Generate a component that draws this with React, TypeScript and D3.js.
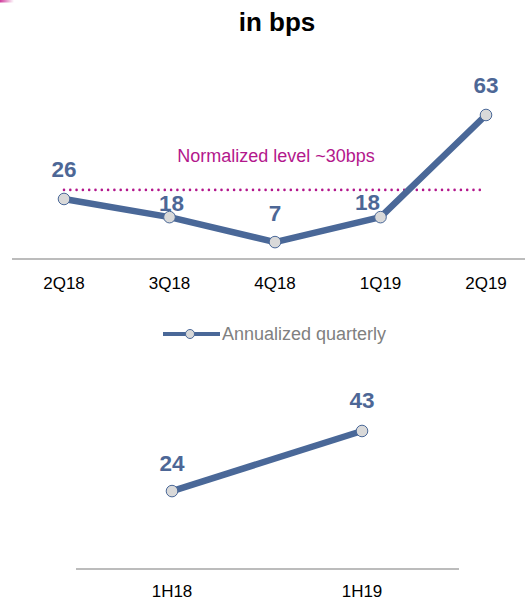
import React from "react";
import * as d3 from "d3";

const quarterCats = ["2Q18", "3Q18", "4Q18", "1Q19", "2Q19"];
const quarterVals = [26, 18, 7, 18, 63];
const quarterLabelDx = [0, 2, 0, -13, 0];
const quarterLabelDy = [-22, -6, -21, -7, -22];
const halfCats = ["1H18", "1H19"];
const halfVals = [24, 43];
const halfLabelDy = [-20, -23];
const normalizedLevel = 30;
const normalizedText = "Normalized level ~30bps";
const legendText = "Annualized quarterly";
const title = "in bps";

const LINE = "#4a6898";
const LABEL = "#4d6796";
const MAGENTA = "#b3178c";
const FONT = "'Liberation Sans', Arial, sans-serif";

export default function App() {
  const W = 525, H = 600;
  const xTop = d3.scalePoint<string>().domain(quarterCats).range([64, 486]);
  const yTop = d3.scaleLinear().domain([0, 70]).range([258, 258 - 70 * 2.27]);
  const xBot = d3.scalePoint<string>().domain(halfCats).range([172, 362]);
  const yBot = d3.scaleLinear().domain([0, 50]).range([567, 567 - 50 * 3.163]);

  const topLine = d3.line<number>().x((_, i) => xTop(quarterCats[i])!).y((d) => yTop(d));
  const botLine = d3.line<number>().x((_, i) => xBot(halfCats[i])!).y((d) => yBot(d));

  return (
    <svg width={W} height={H} style={{ position: "absolute", left: 0, top: 0 }} fontFamily={FONT}>
      <defs>
        <linearGradient id="pk" x1="0" x2="1" y1="0" y2="0">
          <stop offset="0" stopColor="#d03c9c" />
          <stop offset="1" stopColor="#ffffff" />
        </linearGradient>
      </defs>
      <rect x={0} y={0} width={14} height={2.5} fill="url(#pk)" />
      <text x={277} y={31} textAnchor="middle" fontSize={26} fontWeight="bold" fill="#000">{title}</text>

      {/* top chart */}
      <line x1={12} x2={525} y1={259} y2={259} stroke="#a6a6a6" strokeWidth={1.3} />
      {quarterCats.map((c) => (
        <text key={c} x={xTop(c)} y={289} textAnchor="middle" fontSize={17} fill="#000">{c}</text>
      ))}
      <line x1={xTop(quarterCats[0])} x2={xTop(quarterCats[quarterCats.length - 1])}
        y1={yTop(normalizedLevel)} y2={yTop(normalizedLevel)}
        stroke={MAGENTA} strokeWidth={2.6} strokeLinecap="round" strokeDasharray="0 6.3" />
      <text x={276} y={162} textAnchor="middle" fontSize={18} fill={MAGENTA}>{normalizedText}</text>
      <path d={topLine(quarterVals)!} fill="none" stroke={LINE} strokeWidth={6.5} strokeLinejoin="round" />
      {quarterVals.map((v, i) => (
        <circle key={i} cx={xTop(quarterCats[i])} cy={yTop(v)} r={5.8} fill="#d9d9d9" stroke={LINE} strokeWidth={1} />
      ))}
      {quarterVals.map((v, i) => (
        <text key={"l" + i} x={xTop(quarterCats[i])! + quarterLabelDx[i]} y={yTop(v) + quarterLabelDy[i]}
          textAnchor="middle" fontSize={22.5} fontWeight="bold" fill={LABEL}>{v}</text>
      ))}

      {/* legend */}
      <line x1={163} x2={220} y1={334} y2={334} stroke={LINE} strokeWidth={4} />
      <circle cx={190} cy={334} r={4.5} fill="#d9d9d9" stroke={LINE} strokeWidth={1} />
      <text x={222} y={340} fontSize={18} fill="#808080">{legendText}</text>

      {/* bottom chart */}
      <line x1={76} x2={459} y1={569} y2={569} stroke="#a6a6a6" strokeWidth={1.3} />
      {halfCats.map((c) => (
        <text key={c} x={xBot(c)} y={597} textAnchor="middle" fontSize={17} fill="#000">{c}</text>
      ))}
      <path d={botLine(halfVals)!} fill="none" stroke={LINE} strokeWidth={6.5} strokeLinejoin="round" />
      {halfVals.map((v, i) => (
        <circle key={i} cx={xBot(halfCats[i])} cy={yBot(v)} r={5.8} fill="#d9d9d9" stroke={LINE} strokeWidth={1} />
      ))}
      {halfVals.map((v, i) => (
        <text key={"l" + i} x={xBot(halfCats[i])} y={yBot(v) + halfLabelDy[i]}
          textAnchor="middle" fontSize={22.5} fontWeight="bold" fill={LABEL}>{v}</text>
      ))}
    </svg>
  );
}
